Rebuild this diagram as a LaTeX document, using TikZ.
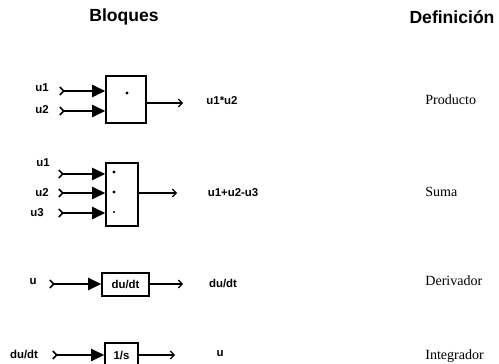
\documentclass[tikz,border=0pt]{standalone}
\usepackage{fontspec}
\setmainfont{Liberation Serif}
\setsansfont{Liberation Sans}
\usetikzlibrary{arrows.meta}

\begin{document}
\begin{tikzpicture}[x=0.02cm, y=-0.02cm,
		head/.style={font=\sffamily\bfseries\fontsize{10}{12}\selectfont},
		lbl/.style={font=\sffamily\bfseries\fontsize{6.5}{7}\selectfont, inner sep=0pt},
		defn/.style={font=\rmfamily\fontsize{8}{9}\selectfont, anchor=west, inner sep=0pt},
		blk/.style={draw, line width=0.9pt, inner sep=0pt, font=\sffamily\bfseries\fontsize{6.5}{7}\selectfont},
		sgn/.style={circle, fill, inner sep=0pt, minimum size=1.8pt},
		inwire/.style={line width=0.9pt, {Straight Barb[reversed, length=2.2pt, width=4.5pt]}-{Triangle[length=7.5pt, width=7pt]}},
		outwire/.style={line width=0.7pt, -{Straight Barb[length=2.2pt, width=4.5pt]}}]
			\clip (0, 0) rectangle (499, 364);
			% Headers:
			\node[head](H1) at (124, 17){Bloques};
			\node[head](H2) at (452, 17){Definición};
			% Product:
			\node[blk, minimum width=40*0.02cm, minimum height=47*0.02cm](prod) at (126, 99.5){};
			\node[sgn](d1) at (127, 93){};
			\node[lbl](L1) at (42, 88){u1};
			\node[lbl](L2) at (42, 110){u2};
			\coordinate (p1) at (59, 91);
			\coordinate (p2) at (59, 111);
			\coordinate (po) at (183, 103);
			\draw[inwire] (p1) -- (p1 -| prod.west);
			\draw[inwire] (p2) -- (p2 -| prod.west);
			\draw[outwire] (prod.east |- po) -- (po);
			\node[lbl](L3) at (222, 101){u1*u2};
			\node[defn](D1) at (425, 100){Producto};
			% Sum:
			\node[blk, minimum width=32*0.02cm, minimum height=63*0.02cm](sum) at (122, 194.5){};
			\node[sgn](d2) at (114, 172){};
			\node[sgn](d3) at (114, 192){};
			\node[sgn, minimum size=1.3pt](d4) at (114, 212){};
			\node[lbl](L4) at (43, 163){u1};
			\node[lbl](L5) at (42, 193){u2};
			\node[lbl](L6) at (37, 213){u3};
			\coordinate (s1) at (58, 174);
			\coordinate (s2) at (58, 193);
			\coordinate (s3) at (58, 213);
			\coordinate (so) at (177, 193);
			\draw[inwire] (s1) -- (s1 -| sum.west);
			\draw[inwire] (s2) -- (s2 -| sum.west);
			\draw[inwire] (s3) -- (s3 -| sum.west);
			\draw[outwire] (sum.east |- so) -- (so);
			\node[lbl](L7) at (233, 193){u1+u2-u3};
			\node[defn](D2) at (425, 192){Suma};
			% Derivator:
			\node[blk, minimum width=47*0.02cm, minimum height=23*0.02cm](der) at (125.5, 284.5){du/dt};
			\node[lbl](L8) at (33, 282){u};
			\coordinate (r1) at (49, 284);
			\coordinate (ro) at (183, 284);
			\draw[inwire] (r1) -- (r1 -| der.west);
			\draw[outwire] (der.east |- ro) -- (ro);
			\node[lbl](L9) at (223, 283){du/dt};
			\node[defn](D3) at (425, 281){Derivador};
			% Integrator:
			\node[blk, minimum width=33*0.02cm, minimum height=24*0.02cm](int) at (121.5, 355){1/s};
			\node[lbl](L10) at (24, 354){du/dt};
			\coordinate (i1) at (52, 355);
			\coordinate (io) at (175, 355);
			\draw[inwire] (i1) -- (i1 -| int.west);
			\draw[outwire] (int.east |- io) -- (io);
			\node[lbl](L11) at (220, 354){u};
			\node[defn](D4) at (425, 356){Integrador};
		\end{tikzpicture}
\end{document}
